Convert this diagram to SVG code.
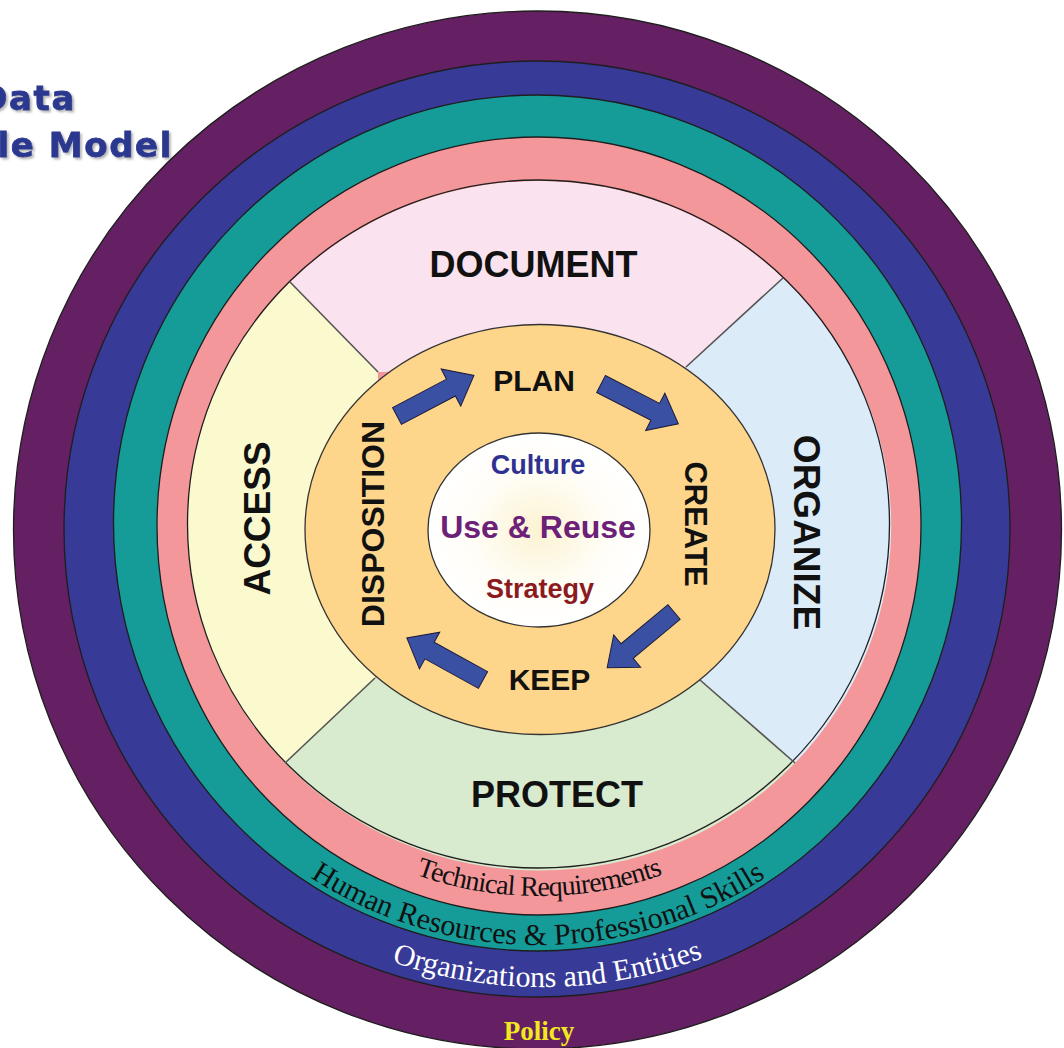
<svg xmlns="http://www.w3.org/2000/svg" xmlns:xlink="http://www.w3.org/1999/xlink" width="1064" height="1048" viewBox="0 0 1064 1048">
<style>
.ring{stroke:#1e1e1e;stroke-width:1.3}
.sector{stroke:none}
.divider{stroke:#555;stroke-width:1.6;fill:none}
.label{font-family:"Liberation Sans",Arial,sans-serif;font-weight:bold;fill:#111;text-anchor:middle}
.core{font-family:"Liberation Sans",Arial,sans-serif;font-weight:bold;text-anchor:middle}
.ringtext{font-family:"Liberation Serif","Times New Roman",serif;text-anchor:middle}
.arrow{fill:#3A50A2;stroke:#1c1c3c;stroke-width:1}
.title{font-family:"DejaVu Sans",Verdana,sans-serif;font-weight:bold;font-size:34px;fill:#2B3990;stroke:#2B3990;stroke-width:0.8;letter-spacing:1.6px;text-anchor:end}
</style>
<defs>
<path id="arrowShape" d="M0,-9.5 L61,-9.5 L61,-21 L87,0 L61,21 L61,9.5 L0,9.5 Z"/>
<radialGradient id="coreGrad" cx="50%" cy="50%" r="50%">
<stop offset="0" stop-color="#FCF3D2"/>
<stop offset="0.6" stop-color="#FFFDF6"/>
<stop offset="1" stop-color="#FFFFFF"/>
</radialGradient>
<filter id="shadow" x="-10%" y="-20%" width="130%" height="150%">
<feDropShadow dx="2" dy="2" stdDeviation="1" flood-color="#888" flood-opacity="0.6"/>
</filter>
<path id="pathTech" d="M171,528 A368,368 0 0 0 907,528"/>
<path id="pathHuman" d="M121,528 A417,417 0 0 0 955,528"/>
<path id="pathOrg" d="M83,528 A459,459 0 0 0 1001,528"/>
</defs>

<g id="title">
<text class="title" x="76" y="110" filter="url(#shadow)">Data</text>
<text class="title" x="173" y="157" filter="url(#shadow)">le Model</text>
</g>

<g id="ring-policy">
<ellipse class="ring" cx="537.5" cy="530" rx="524" ry="519" fill="#642062"/>
</g>
<g id="ring-organizations">
<ellipse class="ring" cx="537" cy="529" rx="473" ry="468" fill="#373A96"/>
</g>
<g id="ring-human">
<ellipse class="ring" cx="537.5" cy="523" rx="424" ry="428" fill="#159B98"/>
</g>
<g id="ring-technical">
<ellipse class="ring" cx="539" cy="526" rx="382" ry="389" fill="#F4979A"/>
</g>

<g id="sectors">
<g id="sector-document">
<path class="sector" fill="#FAE3EE" d="M378,372 L290,282 A351,344 0 0 1 783,278 L686,367 Z"/>
</g>
<g id="sector-organize">
<path class="sector" fill="#DCEBF8" d="M686,367 L783,278 A351,344 0 0 1 795,763 L700,680 Z"/>
</g>
<g id="sector-protect">
<path class="sector" fill="#D8EBCE" d="M700,680 L795,763 A351,344 0 0 1 285,763 L375,678 Z"/>
</g>
<g id="sector-access">
<path class="sector" fill="#FBF9CE" d="M375,678 L285,763 A351,344 0 0 1 290,282 L378,372 Z"/>
</g>
<ellipse cx="538.5" cy="524" rx="351" ry="344" fill="none" stroke="#1e1e1e" stroke-width="1.3"/>
<line class="divider" x1="378" y1="372" x2="290" y2="282"/>
<line class="divider" x1="686" y1="367" x2="783" y2="278"/>
<line class="divider" x1="700" y1="680" x2="795" y2="763"/>
<line class="divider" x1="375" y1="678" x2="285" y2="763" stroke-width="3"/>
</g>

<g id="cycle">
<ellipse cx="540" cy="529.5" rx="235" ry="205" fill="#FED68B" stroke="#333" stroke-width="1.3"/>
</g>
<g id="core">
<ellipse cx="539" cy="530" rx="111" ry="97" fill="url(#coreGrad)" stroke="#333" stroke-width="1.3"/>
<text class="core" x="538" y="474" font-size="27" fill="#2E3192">Culture</text>
<text class="core" x="538" y="538" font-size="32" fill="#6D2077">Use &amp; Reuse</text>
<text class="core" x="540" y="598" font-size="27" fill="#8B1A1F">Strategy</text>
</g>

<g id="quadrant-labels">
<text id="label-document" class="label" x="533.5" y="277" font-size="36">DOCUMENT</text>
<text id="label-protect" class="label" x="557" y="807" font-size="36">PROTECT</text>
<text id="label-access" class="label" font-size="37" transform="translate(270,518.5) rotate(-90)">ACCESS</text>
<text id="label-organize" class="label" font-size="37" transform="translate(794,532.5) rotate(90)">ORGANIZE</text>
</g>

<g id="stage-labels">
<text id="stage-plan" class="label" x="534" y="391" font-size="30">PLAN</text>
<text id="stage-create" class="label" font-size="31" transform="translate(685,524) rotate(90)">CREATE</text>
<text id="stage-keep" class="label" x="549.5" y="690" font-size="30">KEEP</text>
<text id="stage-disposition" class="label" font-size="32" transform="translate(384,524) rotate(-90)">DISPOSITION</text>
</g>

<g id="connectors">
<use xlink:href="#arrowShape" class="arrow" transform="translate(397,416) rotate(-27.8)"/>
<use xlink:href="#arrowShape" class="arrow" transform="translate(601,384) rotate(27.2)"/>
<use xlink:href="#arrowShape" class="arrow" transform="translate(674,612) rotate(140.2)"/>
<use xlink:href="#arrowShape" class="arrow" transform="translate(483,680) rotate(208.9)"/>
</g>

<g id="ring-labels">
<text class="ringtext" font-size="28" fill="#111" letter-spacing="-0.9"><textPath xlink:href="#pathTech" startOffset="50%">Technical Requirements</textPath></text>
<text class="ringtext" font-size="30" fill="#111"><textPath xlink:href="#pathHuman" startOffset="50%">Human Resources &amp; Professional Skills</textPath></text>
<text class="ringtext" font-size="30" fill="#FFFFFF"><textPath xlink:href="#pathOrg" startOffset="50.4%">Organizations and Entities</textPath></text>
<text class="ringtext" x="539" y="1040" font-size="27" font-weight="bold" fill="#F2E81E">Policy</text>
</g>
</svg>
